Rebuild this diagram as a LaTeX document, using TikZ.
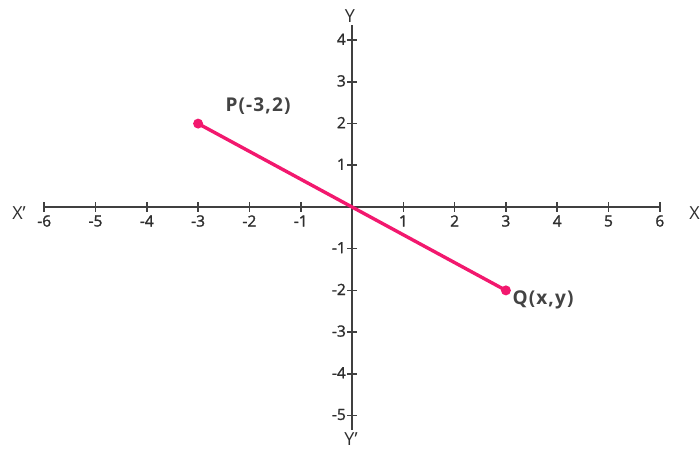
\documentclass[tikz,border=0pt]{standalone}
\usetikzlibrary{calc}
\usepackage{fontspec}
\setmainfont{Open Sans}
\newfontfamily\semib[FakeBold=1.5]{Open Sans}
\newfontfamily\ptfont[LetterSpace=6]{Open Sans}
\definecolor{axisgray}{HTML}{404040}
\definecolor{txtgray}{HTML}{2E2E2E}
\definecolor{pinkline}{HTML}{F2186E}
\begin{document}
\begin{tikzpicture}[x=1pt,y=1pt,
  axis/.style={draw=axisgray,line width=2.4pt},
  tick/.style={draw=axisgray,line width=1.6pt},
  ticklbl/.style={text=txtgray,font=\fontsize{15.5}{15.5}\semib,inner sep=0pt},
  axlbl/.style={text=txtgray,font=\fontsize{18}{18}\selectfont,inner sep=0pt},
  ptlbl/.style={text=txtgray!90!white,font=\fontsize{19}{19}\ptfont\bfseries,inner sep=0pt},
  seg/.style={draw=pinkline,line width=3.4pt},
  dot/.style={circle,fill=pinkline,inner sep=0pt,minimum size=10pt}]
\useasboundingbox (0,0) rectangle (700,449);
\def\ux{51.3}
\def\uy{41.7}
\coordinate (O) at (352,242);
\coordinate (xl) at (44,242);
\coordinate (xr) at (660,242);
\coordinate (yt) at (352,424);
\coordinate (yb) at (352,19);
\draw[axis] (xl) -- (xr);
\draw[axis] (yb) -- (yt);
\foreach \i in {-6,...,6}{
  \ifnum\i=0\else
  \draw[tick] ($(O)+(\i*\ux,-5)$) -- ($(O)+(\i*\ux,5)$);
  \node[ticklbl] (tx\i) at ($(O)+(\i*\ux,-14)$) {\i};
  \fi
}
\foreach \j in {-5,...,4}{
  \ifnum\j=0\else
  \draw[tick] ($(O)+(-5,\j*\uy)$) -- ($(O)+(5,\j*\uy)$);
  \node[ticklbl,anchor=east] (ty\j) at ($(O)+(-6,\j*\uy+1)$) {\j};
  \fi
}
\node[axlbl] (Xp) at (19,236) {X’};
\node[axlbl,anchor=east] (X) at (700,236) {X};
\node[axlbl] (Y) at (350,433) {Y};
\node[axlbl] (Yp) at (351,10) {Y’};
\node[dot] (P) at ($(O)+(-3*\ux,2*\uy)$) {};
\node[dot] (Q) at ($(O)+(3*\ux,-2*\uy)$) {};
\draw[seg] (P.center) -- (Q.center);
\node[ptlbl] (Pl) at (258,343) {P(-3,2)};
\node[ptlbl] (Ql) at (543,149) {Q(x,y)};
\end{tikzpicture}
\end{document}
